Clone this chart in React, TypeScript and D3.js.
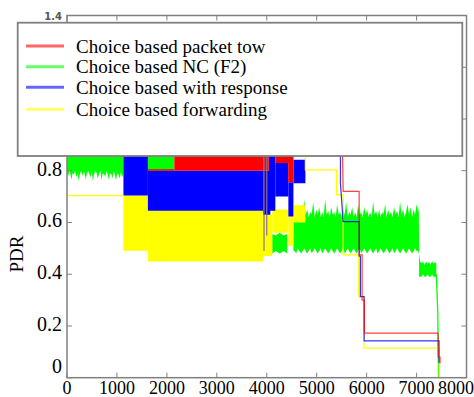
import React from 'react';
import * as d3 from 'd3';

const xTicks = [0, 1000, 2000, 3000, 4000, 5000, 6000, 7000, 8000];
const yTicks = [0, 0.2, 0.4, 0.6, 0.8, 1.0, 1.2, 1.4];
const seriesNames = [
  'Choice based packet tow',
  'Choice based NC (F2)',
  'Choice based with response',
  'Choice based forwarding',
];
const seriesColors = ['#ff0000', '#00ff00', '#0000ff', '#ffff00'];

// dense oscillation envelopes: [x, low, high]
const greenBands: number[][][] = [
  [[0,.79,.95],[25,.78,.95],[45,.80,.95],[70,.785,.95],[90,.765,.95],[110,.79,.95],[140,.785,.95],[165,.80,.95],[185,.775,.95],[210,.79,.95],[235,.76,.95],[255,.785,.95],[285,.80,.95],[310,.78,.95],[330,.795,.95],[355,.79,.95],[375,.765,.95],[400,.79,.95],[430,.80,.95],[450,.785,.95],[470,.775,.95],[495,.795,.95],[520,.758,.95],[540,.785,.95],[570,.80,.95],[595,.79,.95],[615,.77,.95],[640,.785,.95],[670,.80,.95],[690,.762,.95],[715,.79,.95],[745,.785,.95],[765,.775,.95],[790,.80,.95],[815,.785,.95],[835,.765,.95],[860,.79,.95],[890,.785,.95],[910,.77,.95],[935,.80,.95],[960,.785,.95],[980,.76,.95],[1005,.79,.95],[1030,.785,.95],[1055,.77,.95],[1080,.795,.95],[1105,.775,.95],[1130,.79,.95]],
  [[1620,.80,.95],[2150,.80,.95]],
  [[4110,.48,.555],[4180,.49,.55],[4260,.48,.56],[4340,.49,.55],[4410,.48,.555]],
  [[4534,.49,.60],[4560,.49,.64],[4590,.48,.62],[4620,.50,.67],[4650,.49,.63],[4690,.48,.64],[4720,.49,.62],[4750,.50,.69],[4780,.49,.63],[4810,.48,.65],[4840,.49,.62],[4870,.50,.64],[4900,.48,.63],[4930,.49,.68],[4960,.50,.62],[4990,.49,.65],[5020,.48,.63],[5050,.49,.66],[5080,.50,.62],[5110,.48,.64],[5140,.49,.62],[5170,.50,.69],[5200,.49,.63],[5230,.48,.645],[5260,.49,.62],[5290,.50,.66],[5320,.49,.63],[5350,.48,.64],[5380,.49,.62],[5410,.50,.67],[5440,.49,.63],[5470,.48,.64],[5500,.49,.62],[5530,.50,.65],[5560,.48,.63],[5590,.49,.68],[5620,.50,.62],[5650,.49,.64],[5680,.48,.63],[5710,.49,.66],[5740,.50,.62],[5770,.49,.64],[5800,.48,.62],[5830,.49,.67],[5860,.50,.63],[5890,.48,.64],[5920,.49,.62],[5950,.50,.66],[5980,.49,.63],[6010,.48,.65],[6040,.49,.62],[6070,.50,.64],[6100,.49,.62],[6130,.48,.68],[6160,.49,.63],[6190,.50,.645],[6220,.48,.62],[6250,.49,.65],[6280,.50,.62],[6310,.49,.64],[6340,.48,.63],[6370,.49,.67],[6400,.50,.62],[6430,.49,.65],[6460,.48,.63],[6490,.49,.64],[6520,.50,.62],[6550,.48,.66],[6580,.49,.63],[6610,.50,.645],[6640,.49,.62],[6670,.48,.68],[6700,.49,.63],[6730,.50,.65],[6760,.49,.62],[6790,.48,.64],[6820,.49,.67],[6850,.50,.63],[6880,.49,.66],[6910,.48,.62],[6940,.49,.65],[6970,.50,.63],[7000,.49,.67],[7030,.49,.64],[7045,.48,.66],[7050,.48,.50]],
  [[7050,.39,.48],[7070,.39,.45],[7100,.39,.44],[7130,.40,.45],[7160,.39,.435],[7190,.39,.45],[7220,.40,.44],[7250,.39,.448],[7280,.39,.437],[7310,.40,.45],[7340,.39,.44],[7370,.39,.447],[7395,.39,.44]],
];
const yellowBands: number[][][] = [
  [[1130,.491,.704],[1620,.491,.704]],
  [[1620,.449,.645],[3930,.449,.645]],
  [[3930,.47,.63],[4110,.47,.63]],
  [[4110,.56,.65],[4433,.56,.65]],
  [[4433,.51,.623],[4534,.51,.623]],
  [[4534,.60,.667],[4774,.60,.667]],
];
const blueBands: number[][][] = [
  [[1130,.704,.95],[1620,.704,.95]],
  [[1620,.645,.80],[3930,.645,.80]],
  [[3930,.63,.80],[4072,.63,.80]],
  [[4040,.645,.95],[4172,.645,.95]],
  [[4172,.70,.83],[4433,.70,.83]],
  [[4433,.623,.755],[4534,.623,.755]],
  [[4534,.752,.842],[4774,.752,.842]],
];
const redBands: number[][][] = [
  [[1620,.80,.806],[2150,.80,.806]],
  [[2150,.80,.95],[3930,.80,.95]],
  [[3930,.80,.95],[4040,.80,.95]],
  [[4172,.83,.95],[4470,.83,.95]],
  [[4430,.755,.95],[4534,.755,.95]],
];
// thin step lines: [x, y]
const mixedLines: number[][][] = [
  [[3945,.49],[3945,.86]],
  [[4000,.55],[4000,.86]],
];
const greenLine: number[][] = [[7395,.40],[7410,.33],[7425,.25],[7440,0]];
const yellowLines: number[][][] = [
  [[0,.704],[1130,.704]],
  [[4774,.95],[4774,.8035],[5396,.8035],[5396,.707],[5530,.707],[5530,.475],[5840,.475],[5840,.313],[5945,.313],[5945,.114],[7455,.114],[7455,0]],
];
const blueLine: number[][] = [[5476,.95],[5476,.75],[5530,.603],[5851,.603],[5851,.47],[5875,.47],[5875,.313],[5950,.313],[5950,.142],[7450,.142],[7450,.06],[7465,.06]];
const redLine: number[][] = [[5510,.95],[5530,.72],[5851,.72],[5851,.475],[5910,.475],[5910,.30],[5955,.30],[5955,.172],[7432,.172],[7432,.08],[7470,.08],[7470,.055]];

const W = 474, H = 397;
const L = 67, R = 466.5, T = 15.5, B = 377.7;

export default function App() {
  const x = d3.scaleLinear().domain([0, 8000]).range([L, R]);
  const y = d3.scaleLinear().domain([0, 1.4]).range([B, T]);
  const area = d3.area<number[]>().x(d => x(d[0])).y0(d => y(d[1])).y1(d => y(d[2]));
  const line = d3.line<number[]>().x(d => x(d[0])).y(d => y(d[1]));
  const frame = '#808080';
  const font = '"Liberation Serif", "Times New Roman", serif';

  const bandPaths = (bands: number[][][], color: string, key: string) =>
    bands.map((b, i) => <path key={key + i} d={area(b) || ''} fill={color} stroke="none" />);

  const legX = 17.7, legY = 22.7, legW = 444.6, legH = 133.3;
  const legRows = [46, 66.7, 87.3, 109.3];

  return (
    <svg width={W} height={H} style={{ position: 'absolute', left: 0, top: 0, background: '#fff' }}>
      <defs>
        <clipPath id="plot"><rect x={L} y={T} width={R - L} height={B - T} /></clipPath>
      </defs>
      <rect x={0} y={0} width={W} height={H} fill="#fff" />
      <g clipPath="url(#plot)">
        {bandPaths(greenBands, seriesColors[1], 'g')}
        {bandPaths(yellowBands, seriesColors[3], 'y')}
        {bandPaths(blueBands, seriesColors[2], 'b')}
        {bandPaths(redBands, seriesColors[0], 'r')}
        {mixedLines.map((m, i) => <path key={'m' + i} d={line(m) || ''} fill="none" stroke="#8a6f8f" strokeWidth={1.2} />)}
        <path d={line(greenLine) || ''} fill="none" stroke={seriesColors[1]} strokeWidth={1.3} />
        {yellowLines.map((l, i) => <path key={'yl' + i} d={line(l) || ''} fill="none" stroke={seriesColors[3]} strokeWidth={1.3} />)}
        <path d={line(blueLine) || ''} fill="none" stroke={seriesColors[2]} strokeWidth={1.2} strokeOpacity={0.8} />
        <path d={line(redLine) || ''} fill="none" stroke={seriesColors[0]} strokeWidth={1.2} strokeOpacity={0.75} />
      </g>
      {/* frame */}
      <rect x={L} y={T} width={R - L} height={B - T} fill="none" stroke={frame} strokeWidth={1.5} />
      {xTicks.map((t, i) => {
        const last = i === xTicks.length - 1;
        return (
          <g key={'xt' + t}>
            <line x1={x(t)} x2={x(t)} y1={B} y2={B - 5} stroke={frame} strokeWidth={1} />
            <line x1={x(t)} x2={x(t)} y1={T} y2={T + 5} stroke={frame} strokeWidth={1} />
            <text x={last ? 474 : x(t)} y={394} textAnchor={last ? 'end' : 'middle'} fontFamily={font} fontSize={18} fill="#000">{t}</text>
          </g>
        );
      })}
      {yTicks.map(t => (
        <g key={'yt' + t}>
          <line x1={L} x2={L + 5} y1={y(t)} y2={y(t)} stroke={frame} strokeWidth={1} />
          <line x1={R} x2={R - 5} y1={y(t)} y2={y(t)} stroke={frame} strokeWidth={1} />
          {t === 1.4 ? (
            <text x={62} y={y(t) + 4.5} textAnchor="end" fontFamily="DejaVu Sans, sans-serif" fontSize={10} fontWeight="bold" fill="#555">{t.toFixed(1)}</text>
          ) : (
            <text x={62} y={t === 0 ? 373 : y(t) + 5} textAnchor="end" fontFamily={font} fontSize={20} fill="#000">{t === 0 ? '0' : t.toFixed(1)}</text>
          )}
        </g>
      ))}
      <text transform={`translate(23,254) rotate(-90)`} textAnchor="middle" fontFamily={font} fontSize={19} fill="#000">PDR</text>
      {/* legend */}
      <rect x={legX} y={legY} width={legW} height={legH} fill="#fff" stroke={frame} strokeWidth={1.8} />
      {seriesNames.map((n, i) => (
        <g key={'lg' + i}>
          <line x1={26} x2={64} y1={legRows[i]} y2={legRows[i]} stroke={seriesColors[i]} strokeOpacity={0.6} strokeWidth={3} />
          <text x={76} y={legRows[i] + 6.5} fontFamily={font} fontSize={19} fill="#000">{n}</text>
        </g>
      ))}
    </svg>
  );
}
